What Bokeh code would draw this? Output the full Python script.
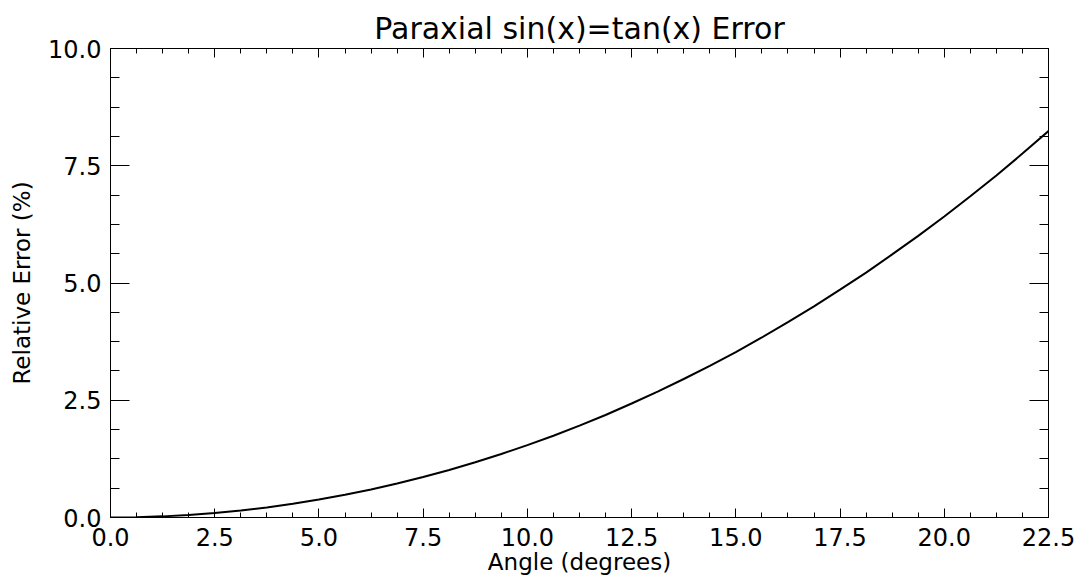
from bokeh.plotting import figure
from bokeh.models import LinearAxis, Range1d, SingleIntervalTicker, PrintfTickFormatter
from bokeh.embed import file_html
from bokeh.resources import INLINE

# Data
angle_deg = [0.0, 0.625, 1.25, 1.875, 2.5, 3.125, 3.75, 4.375, 5.0, 5.625,
             6.25, 6.875, 7.5, 8.125, 8.75, 9.375, 10.0, 10.625, 11.25, 11.875,
             12.5, 13.125, 13.75, 14.375, 15.0, 15.625, 16.25, 16.875, 17.5, 18.125,
             18.75, 19.375, 20.0, 20.625, 21.25, 21.875, 22.5]
rel_error_pct = [0.0, 0.006, 0.024, 0.054, 0.095, 0.149, 0.215, 0.292, 0.382, 0.484,
                 0.598, 0.724, 0.863, 1.014, 1.178, 1.354, 1.543, 1.744, 1.960, 2.186,
                 2.430, 2.682, 2.953, 3.232, 3.528, 3.838, 4.166, 4.500, 4.858, 5.220,
                 5.609, 6.004, 6.418, 6.849, 7.294, 7.759, 8.239]

title_text = "Paraxial sin(x)=tan(x) Error"
x_label = "Angle (degrees)"
y_label = "Relative Error (%)"

FONT = "DejaVu Sans"

p = figure(width=1076, height=580, output_backend="svg", toolbar_location=None,
           x_range=Range1d(0, 22.5), y_range=Range1d(0, 10),
           x_axis_type=None, y_axis_type=None,
           min_border_left=110, min_border_right=28, min_border_top=48,
           min_border_bottom=63)

p.background_fill_color = "white"
p.border_fill_color = "white"
p.outline_line_color = "black"
p.outline_line_width = 1
p.xgrid.visible = False
p.ygrid.visible = False

p.title.text = title_text
p.title.align = "center"
p.title.text_font = FONT
p.title.text_font_size = "30px"
p.title.text_font_style = "normal"
p.title.text_color = "black"
p.title.standoff = 6


def style_axis(ax, major_in, minor_in, labels):
    ax.ticker = SingleIntervalTicker(interval=2.5, num_minor_ticks=4)
    ax.formatter = PrintfTickFormatter(format="%.1f")
    ax.major_tick_in = major_in
    ax.major_tick_out = 0
    ax.minor_tick_in = minor_in
    ax.minor_tick_out = 0
    ax.axis_line_color = "black"
    ax.major_tick_line_color = "black"
    ax.minor_tick_line_color = "black"
    if labels:
        ax.major_label_text_font = FONT
        ax.major_label_text_font_size = "24px"
        ax.major_label_text_color = "black"
        ax.axis_label_text_font = FONT
        ax.axis_label_text_font_size = "23px"
        ax.axis_label_text_font_style = "normal"
        ax.axis_label_text_color = "black"
    else:
        ax.major_label_text_font_size = "0px"
        ax.major_label_text_alpha = 0


xb = LinearAxis()
style_axis(xb, 9, 5, True)
xb.axis_label = x_label
xb.major_label_standoff = 10
xb.axis_label_standoff = 0
p.add_layout(xb, "below")

xt = LinearAxis()
style_axis(xt, 9, 5, False)
p.add_layout(xt, "above")

yl = LinearAxis()
style_axis(yl, 19, 9, True)
yl.axis_label = y_label
yl.major_label_standoff = 9
yl.axis_label_standoff = 10
p.add_layout(yl, "left")

yr = LinearAxis()
style_axis(yr, 19, 9, False)
p.add_layout(yr, "right")

p.line(angle_deg, rel_error_pct, line_color="black", line_width=2)

open("out.html", "w").write(file_html(p, INLINE))
